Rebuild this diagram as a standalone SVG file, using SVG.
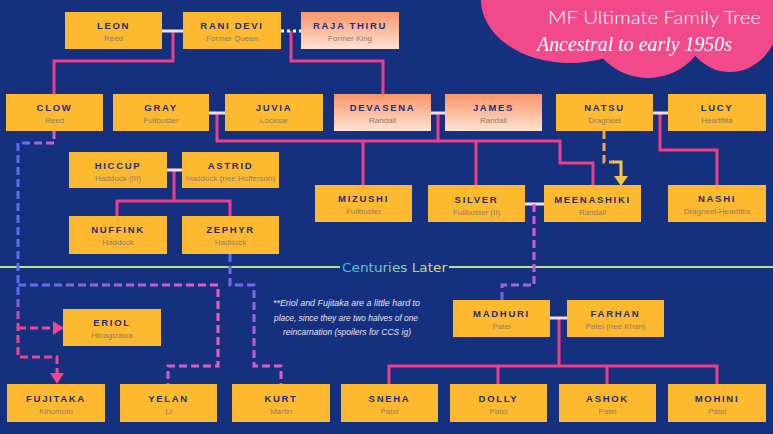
<svg xmlns="http://www.w3.org/2000/svg" width="773" height="434" viewBox="0 0 773 434">
<defs>
<style>
.box{fill:#fdb92f}
.peach{fill:url(#peachG)}
.nm{font-family:"Liberation Sans",Arial,sans-serif;font-weight:bold;font-size:9.5px;letter-spacing:1.7px;fill:#1f2d7b;text-anchor:middle}
.sb{font-family:"Liberation Sans",Arial,sans-serif;font-size:8px;fill:#8f8068;text-anchor:middle}
.ln{fill:none;stroke:#ee3f8a;stroke-width:3}
.sp{fill:none;stroke:#f7dcef;stroke-width:3}
.dash{fill:none;stroke-width:3;stroke-dasharray:8 4}
.note{font-family:"Liberation Sans",Arial,sans-serif;font-style:italic;font-size:9.5px;fill:#e6e2f2;text-anchor:start}
</style>
<linearGradient id="peachG" x1="0" y1="0" x2="0" y2="1">
<stop offset="0" stop-color="#f9966a"/>
<stop offset="1" stop-color="#fee2d2"/>
</linearGradient>
<linearGradient id="clowG" gradientUnits="userSpaceOnUse" x1="18" y1="0" x2="54" y2="0">
<stop offset="0" stop-color="#5b6cf0"/>
<stop offset="1" stop-color="#e05fcf"/>
</linearGradient>
<linearGradient id="yelanG" gradientUnits="userSpaceOnUse" x1="18" y1="0" x2="218" y2="0">
<stop offset="0" stop-color="#5b6cf0"/>
<stop offset="1" stop-color="#f05cc0"/>
</linearGradient>
<linearGradient id="leftG" gradientUnits="userSpaceOnUse" x1="0" y1="143" x2="0" y2="357">
<stop offset="0" stop-color="#5b6cf0"/>
<stop offset="0.7" stop-color="#5b6cf0"/>
<stop offset="0.85" stop-color="#f0468e"/>
<stop offset="1" stop-color="#f0468e"/>
</linearGradient>
<linearGradient id="kurtG" gradientUnits="userSpaceOnUse" x1="0" y1="254" x2="0" y2="384">
<stop offset="0" stop-color="#5b6cf0"/>
<stop offset="0.5" stop-color="#a060e6"/>
<stop offset="1" stop-color="#f05cb8"/>
</linearGradient>
<linearGradient id="madG" gradientUnits="userSpaceOnUse" x1="0" y1="204" x2="0" y2="300">
<stop offset="0" stop-color="#ec54d0"/>
<stop offset="0.8" stop-color="#b760e0"/>
<stop offset="1" stop-color="#5b6cf0"/>
</linearGradient>
<linearGradient id="centG" x1="0" y1="0" x2="1" y2="0">
<stop offset="0" stop-color="#35bfe0"/>
<stop offset="1" stop-color="#e8e070"/>
</linearGradient>
</defs>
<rect width="773" height="434" fill="#15307f"/>

<g id="title">
<g fill="#f2498b">
<ellipse cx="570" cy="0" rx="89" ry="63"/>
<ellipse cx="648" cy="20" rx="60" ry="58"/>
<ellipse cx="730" cy="15" rx="50" ry="57"/>
<rect x="560" y="0" width="213" height="40"/>
</g>
<text x="548" y="24" font-family="Lato,'Open Sans',sans-serif" font-weight="300" font-size="18" fill="#ffffff" textLength="213" lengthAdjust="spacingAndGlyphs">MF Ultimate Family Tree</text>
<text x="537" y="51" font-family="'Liberation Serif',serif" font-style="italic" font-size="22" fill="#ffffff" textLength="195" lengthAdjust="spacingAndGlyphs">Ancestral to early 1950s</text>
</g>

<g id="divider">
<path d="M0,267 H340 M449,267 H773" stroke="#b8e28a" stroke-width="2" fill="none"/>
<text x="342" y="272" font-family="'DejaVu Sans',sans-serif" font-size="13" fill="url(#centG)" textLength="105" lengthAdjust="spacingAndGlyphs">Centuries Later</text>
</g>

<g id="connectors">
<path class="ln" d="M173,31 V61 H54 V94"/>
<path class="ln" d="M291,31 V61 H383 V94"/>
<path class="ln" d="M217,113 V141 H560 V163 H593 V185"/>
<path class="ln" d="M438,113 V141"/>
<path class="ln" d="M363,141 V185"/>
<path class="ln" d="M476,141 V185"/>
<path class="ln" d="M660,113 V150 H717 V185"/>
<path class="ln" d="M174,170 V201 M117,216 V201 H230 V216"/>
<path class="ln" d="M559,318 V366 M389,384 V366 H717 V384 M498,366 V384 M607,366 V384"/>

<path class="sp" d="M162,31 H183"/>
<path d="M281,31 H301" fill="none" stroke="#ffffff" stroke-width="3" stroke-dasharray="3 3"/>
<path class="sp" d="M209,113 H225"/>
<path class="sp" d="M431,113 H445"/>
<path class="sp" d="M653,113 H668"/>
<path class="sp" d="M167,170 H182"/>
<path class="sp" d="M525,204 H544"/>
<path class="sp" d="M550,318 H567"/>

<path class="dash" stroke="url(#clowG)" d="M54,131 V143 H18"/>
<path class="dash" stroke="url(#leftG)" d="M18,143 V357 H57 V374"/>
<path class="dash" stroke="url(#yelanG)" d="M18,285 H218 V366 H168 V384"/>
<path class="dash" stroke="#f0468e" d="M18,328 H54"/>
<polygon points="53,321 53,335 64,328" fill="#f0468e"/>
<polygon points="50,373 64,373 57,384" fill="#f0468e"/>
<path class="dash" stroke="url(#kurtG)" d="M230,254 V285 H254 V366 H281 V384"/>
<path class="dash" stroke="url(#madG)" d="M534,204 V285 H502 V300"/>
<path class="dash" stroke="#f0a850" d="M604,131 V162 H614"/>
<path d="M613,162 H621 V177" fill="none" stroke="#f7c548" stroke-width="3"/>
<polygon points="614,176 628,176 621,186" fill="#f7c548"/>
</g>

<g id="leon" transform="translate(65,12)"><rect class="box" width="97" height="37"/><text class="nm" x="48.5" y="17">LEON</text><text class="sb" x="48.5" y="29">Reed</text></g>
<g id="rani-devi" transform="translate(183,12)"><rect class="box" width="98" height="37"/><text class="nm" x="49" y="17">RANI DEVI</text><text class="sb" x="49" y="29">Former Queen</text></g>
<g id="raja-thiru" transform="translate(301,12)"><rect class="peach" width="98" height="37"/><text class="nm" x="49" y="17">RAJA THIRU</text><text class="sb" x="49" y="29">Former King</text></g>

<g id="clow" transform="translate(6,94)"><rect class="box" width="97" height="37"/><text class="nm" x="48.5" y="17">CLOW</text><text class="sb" x="48.5" y="29">Reed</text></g>
<g id="gray" transform="translate(113,94)"><rect class="box" width="96" height="37"/><text class="nm" x="48" y="17">GRAY</text><text class="sb" x="48" y="29">Fullbuster</text></g>
<g id="juvia" transform="translate(225,94)"><rect class="box" width="98" height="37"/><text class="nm" x="49" y="17">JUVIA</text><text class="sb" x="49" y="29">Locksar</text></g>
<g id="devasena" transform="translate(334,94)"><rect class="peach" width="97" height="37"/><text class="nm" x="48.5" y="17">DEVASENA</text><text class="sb" x="48.5" y="29">Randall</text></g>
<g id="james" transform="translate(445,94)"><rect class="peach" width="97" height="37"/><text class="nm" x="48.5" y="17">JAMES</text><text class="sb" x="48.5" y="29">Randall</text></g>
<g id="natsu" transform="translate(556,94)"><rect class="box" width="97" height="37"/><text class="nm" x="48.5" y="17">NATSU</text><text class="sb" x="48.5" y="29">Dragneel</text></g>
<g id="lucy" transform="translate(668,94)"><rect class="box" width="98" height="37"/><text class="nm" x="49" y="17">LUCY</text><text class="sb" x="49" y="29">Heartfilia</text></g>

<g id="hiccup" transform="translate(69,152)"><rect class="box" width="98" height="36"/><text class="nm" x="49" y="17">HICCUP</text><text class="sb" x="49" y="29">Haddock (III)</text></g>
<g id="astrid" transform="translate(182,152)"><rect class="box" width="97" height="36"/><text class="nm" x="48.5" y="17">ASTRID</text><text class="sb" x="48.5" y="29">Haddock (nee Hofferson)</text></g>

<g id="mizushi" transform="translate(315,185)"><rect class="box" width="97" height="37"/><text class="nm" x="48.5" y="17">MIZUSHI</text><text class="sb" x="48.5" y="29">Fullbuster</text></g>
<g id="silver" transform="translate(428,185)"><rect class="box" width="97" height="37"/><text class="nm" x="48.5" y="18">SILVER</text><text class="sb" x="48.5" y="30">Fullbuster (II)</text></g>
<g id="meenashiki" transform="translate(544,185)"><rect class="box" width="97" height="37"/><text class="nm" x="48.5" y="18">MEENASHIKI</text><text class="sb" x="48.5" y="30">Randall</text></g>
<g id="nashi" transform="translate(668,185)"><rect class="box" width="98" height="37"/><text class="nm" x="49" y="17">NASHI</text><text class="sb" x="49" y="29">Dragneel-Heartfilia</text></g>

<g id="nuffink" transform="translate(69,216)"><rect class="box" width="98" height="38"/><text class="nm" x="49" y="17">NUFFINK</text><text class="sb" x="49" y="29">Haddock</text></g>
<g id="zephyr" transform="translate(182,216)"><rect class="box" width="97" height="38"/><text class="nm" x="48.5" y="17">ZEPHYR</text><text class="sb" x="48.5" y="29">Haddock</text></g>

<g id="eriol" transform="translate(63,309)"><rect class="box" width="98" height="37"/><text class="nm" x="49" y="17">ERIOL</text><text class="sb" x="49" y="29">Hiiragizawa</text></g>
<g id="madhuri" transform="translate(453,300)"><rect class="box" width="97" height="37"/><text class="nm" x="48.5" y="17">MADHURI</text><text class="sb" x="48.5" y="29">Patel</text></g>
<g id="farhan" transform="translate(567,300)"><rect class="box" width="97" height="37"/><text class="nm" x="48.5" y="17">FARHAN</text><text class="sb" x="48.5" y="29">Patel (nee Khan)</text></g>

<g id="fujitaka" transform="translate(7,384)"><rect class="box" width="98" height="38"/><text class="nm" x="49" y="18">FUJITAKA</text><text class="sb" x="49" y="30">Kinomoto</text></g>
<g id="yelan" transform="translate(120,384)"><rect class="box" width="97" height="38"/><text class="nm" x="48.5" y="18">YELAN</text><text class="sb" x="48.5" y="30">Li</text></g>
<g id="kurt" transform="translate(232,384)"><rect class="box" width="98" height="38"/><text class="nm" x="49" y="18">KURT</text><text class="sb" x="49" y="30">Martin</text></g>
<g id="sneha" transform="translate(341,384)"><rect class="box" width="97" height="38"/><text class="nm" x="48.5" y="18">SNEHA</text><text class="sb" x="48.5" y="30">Patel</text></g>
<g id="dolly" transform="translate(450,384)"><rect class="box" width="97" height="38"/><text class="nm" x="48.5" y="18">DOLLY</text><text class="sb" x="48.5" y="30">Patel</text></g>
<g id="ashok" transform="translate(559,384)"><rect class="box" width="97" height="38"/><text class="nm" x="48.5" y="18">ASHOK</text><text class="sb" x="48.5" y="30">Patel</text></g>
<g id="mohini" transform="translate(668,384)"><rect class="box" width="98" height="38"/><text class="nm" x="49" y="18">MOHINI</text><text class="sb" x="49" y="30">Patel</text></g>

<g id="note">
<text class="note" x="273" y="306" textLength="147" lengthAdjust="spacingAndGlyphs">**Eriol and Fujitaka are a little hard to</text>
<text class="note" x="274" y="321" textLength="144" lengthAdjust="spacingAndGlyphs">place, since they are two halves of one</text>
<text class="note" x="283" y="335" textLength="128" lengthAdjust="spacingAndGlyphs">reincarnation (spoilers for CCS ig)</text>
</g>
</svg>
